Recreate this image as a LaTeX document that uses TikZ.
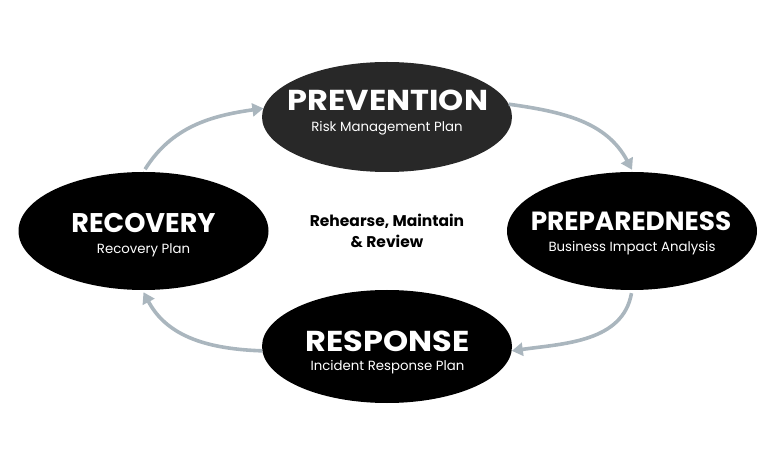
\documentclass[tikz,border=0pt]{standalone}
\usepackage{fontspec}
\setmainfont{Poppins}
\newfontfamily\widefont[FakeStretch=1.11]{Poppins}
\usetikzlibrary{shapes.geometric,arrows.meta}
\definecolor{arrowgray}{HTML}{AAB6BE}
\definecolor{prevfill}{HTML}{282828}
\tikzset{
  phase/.style={ellipse, draw=none, fill=black, inner sep=0pt, minimum width=250pt},
  ttl/.style={text=white, inner sep=0pt, anchor=base},
  sub/.style={text=white, font=\fontsize{13.3}{15}\selectfont, inner sep=0pt, anchor=base},
  arr/.style={draw=arrowgray, line width=3.6pt, -{Triangle[length=11pt,width=13pt]}},
}
\begin{document}
\begin{tikzpicture}[x=1pt,y=1pt]
\useasboundingbox (0,0) rectangle (776,458);
\node[phase, fill=prevfill, minimum height=110pt] (prev) at (387,341) {};
\node[phase, minimum height=118pt] (rec) at (143.5,227) {};
\node[phase, minimum height=118pt] (prep) at (632,227) {};
\node[phase, minimum height=113pt] (resp) at (387,111.5) {};

\node[ttl, font=\widefont\bfseries\fontsize{28.8}{30}\selectfont] (prevt) at (388,347.5) {PREVENTION};
\node[sub] (prevs) at (387,326) {Risk Management Plan};
\node[ttl, font=\bfseries\fontsize{27}{29}\selectfont] (rect) at (143.5,225.5) {RECOVERY};
\node[sub] (recs) at (143.5,204.5) {Recovery Plan};
\node[ttl, font=\bfseries\fontsize{26.3}{28}\selectfont] (prept) at (631,227) {PREPAREDNESS};
\node[sub] (preps) at (632,206) {Business Impact Analysis};
\node[ttl, font=\widefont\bfseries\fontsize{28.8}{30}\selectfont] (respt) at (387.5,106.5) {RESPONSE};
\node[sub] (resps) at (387.5,87.5) {Incident Response Plan};

\node[font=\bfseries\fontsize{15.5}{21}\selectfont, align=center, inner sep=0pt] (mid) at (387,227) {Rehearse, Maintain\\\& Review};

\draw[arr, shorten <=3pt] (rec.north) to[out=58,in=188] (prev.176);
\draw[arr] (prev.6) to[out=-8,in=118] ([yshift=2pt]prep.north);
\draw[arr, shorten <=3pt] (prep.south) to[out=-100,in=8] (resp.358);
\draw[arr] (resp.182) to[out=178,in=-62] ([yshift=-2pt]rec.south);
\end{tikzpicture}
\end{document}
